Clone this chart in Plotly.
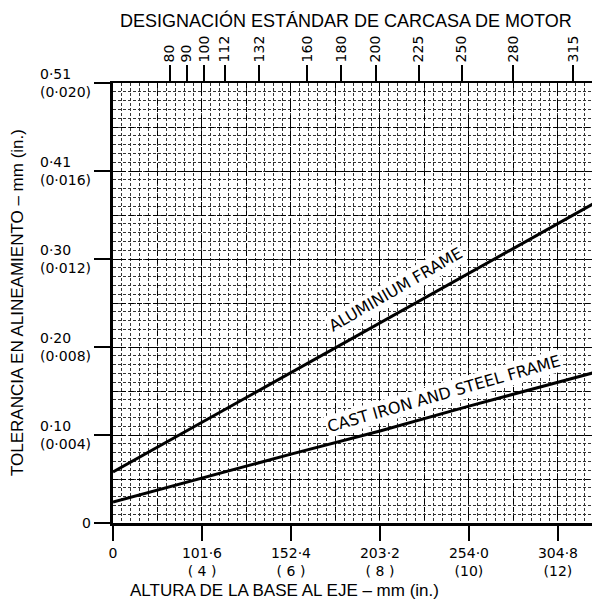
import plotly.graph_objects as go

# ---- data (x in mm shaft height, y in inches tolerance) ----
x_mm = [50.8, 101.6, 152.4, 203.2, 254.0, 304.8, 328.8]
aluminium_in = [0.00232, 0.00458, 0.00684, 0.00910, 0.01135, 0.01361, 0.01468]
cast_iron_in = [0.00095, 0.00204, 0.00313, 0.00418, 0.00531, 0.00640, 0.00691]

x_tick_vals = [50.8, 101.6, 152.4, 203.2, 254.0, 304.8]
x_tick_text = ["0", "101·6<br>( 4 )", "152·4<br>( 6 )", "203·2<br>( 8 )",
               "254·0<br>(10)", "304·8<br>(12)"]

frame_vals = [80, 90, 100, 112, 132, 160, 180, 200, 225, 250, 280, 315]
frame_text = [str(v) for v in frame_vals]

y_tick_vals = [0, 0.004, 0.008, 0.012, 0.016, 0.020]
y_tick_text = ["0", "0·10<br>(0·004)", "0·20<br>(0·008)", "0·30<br>(0·012)",
               "0·41<br>(0·016)", "0·51<br>(0·020)"]

NUMFONT = "DejaVu Sans"
TITLEFONT = "Liberation Sans"

fig = go.Figure()
fig.add_trace(go.Scatter(x=x_mm, y=aluminium_in, mode="lines",
                         line=dict(color="black", width=3),
                         showlegend=False, hoverinfo="skip"))
fig.add_trace(go.Scatter(x=x_mm, y=cast_iron_in, mode="lines",
                         line=dict(color="black", width=3),
                         showlegend=False, hoverinfo="skip"))
# dummy traces so overlay axes are drawn
fig.add_trace(go.Scatter(x=[None], y=[None], xaxis="x2", yaxis="y",
                         showlegend=False, hoverinfo="skip"))
fig.add_trace(go.Scatter(x=[None], y=[None], xaxis="x3", yaxis="y3",
                         showlegend=False, hoverinfo="skip"))

x_range = [50.8, 328.8]
y_range = [0, 0.020]

# page body has an 8px margin, so the figure is 8px smaller and shifted
fig.update_layout(
    width=592, height=593,
    margin=dict(l=105, r=0, t=75, b=78),
    paper_bgcolor="white", plot_bgcolor="white",
    hovermode=False,
    xaxis=dict(
        domain=[0, 1], range=x_range, anchor="y",
        tickmode="array", tickvals=x_tick_vals, ticktext=x_tick_text,
        ticks="outside", ticklen=15, tickwidth=1.5, tickcolor="black",
        tickfont=dict(family=NUMFONT, size=14, color="black"),
        showline=True, linewidth=3, linecolor="black",
        showgrid=True, gridcolor="black", gridwidth=1.4, griddash="12px,5px",
        zeroline=False,
        minor=dict(tickmode="linear", tick0=50.8, dtick=5.08, showgrid=True,
                   gridcolor="#333333", gridwidth=1, griddash="3px,2px", ticks=""),
    ),
    yaxis=dict(
        domain=[0, 1], range=y_range, anchor="x",
        tickmode="array", tickvals=y_tick_vals, showticklabels=False,
        ticks="outside", ticklen=16, tickwidth=1.5, tickcolor="black",
        showline=True, linewidth=3, linecolor="black",
        showgrid=True, gridcolor="black", gridwidth=1.4, griddash="12px,5px",
        zeroline=False,
        minor=dict(tickmode="linear", tick0=0, dtick=0.0004, showgrid=True,
                   gridcolor="#333333", gridwidth=1, griddash="3px,2px", ticks=""),
    ),
    xaxis2=dict(
        overlaying="x", side="top", anchor="y", range=[47.0, 330.5],
        tickmode="array", tickvals=frame_vals, ticktext=frame_text,
        tickangle=-90, ticks="outside", ticklen=16, tickwidth=1.5,
        tickcolor="black",
        tickfont=dict(family=NUMFONT, size=14, color="black"),
        showline=True, linewidth=1.5, linecolor="black",
        showgrid=False, zeroline=False,
    ),
    xaxis3=dict(
        overlaying="x", anchor="y3", range=x_range,
        tickmode="linear", tick0=50.8, dtick=25.4,
        showticklabels=False, ticks="", showline=False, zeroline=False,
        showgrid=True, gridcolor="black", gridwidth=1, griddash="5px,3px",
    ),
    yaxis3=dict(
        overlaying="y", anchor="x3", range=y_range,
        tickmode="linear", tick0=0, dtick=0.002,
        showticklabels=False, ticks="", showline=False, zeroline=False,
        showgrid=True, gridcolor="black", gridwidth=1, griddash="5px,3px",
    ),
)

annotations = []
for v, t in zip(y_tick_vals, y_tick_text):
    annotations.append(dict(
        x=-0.041, xref="paper", y=v, yref="y", text=t, showarrow=False,
        xanchor="right", yanchor="middle", align="left",
        font=dict(family=NUMFONT, size=14, color="black")))

annotations += [
    dict(text="TOLERANCIA EN ALINEAMIENTO – mm (in.)", textangle=-90,
         x=-0.197, xref="paper", y=0.5, yref="paper", showarrow=False,
         xanchor="center", yanchor="middle",
         font=dict(family=TITLEFONT, size=17, color="black")),
    dict(text="ALTURA DE LA BASE AL EJE – mm (in.)",
         x=0.353, xref="paper", y=-0.1545, yref="paper", showarrow=False,
         xanchor="center", yanchor="middle",
         font=dict(family=TITLEFONT, size=17, color="black")),
    dict(text="DESIGNACIÓN ESTÁNDAR DE CARCASA DE MOTOR",
         x=0.478, xref="paper", y=1.141, yref="paper", showarrow=False,
         xanchor="center", yanchor="middle",
         font=dict(family=TITLEFONT, size=18, color="black")),
    dict(text="ALUMINIUM FRAME", x=212.0, y=0.01062, xref="x", yref="y",
         textangle=-30, showarrow=False, bgcolor="white", borderpad=1,
         font=dict(family=NUMFONT, size=16, color="black")),
    dict(text="CAST IRON AND STEEL FRAME", x=240.0, y=0.00590, xref="x", yref="y",
         textangle=-16, showarrow=False, bgcolor="white", borderpad=1,
         font=dict(family=NUMFONT, size=16, color="black")),
]
fig.update_layout(annotations=annotations)

fig.write_html("out.html")
